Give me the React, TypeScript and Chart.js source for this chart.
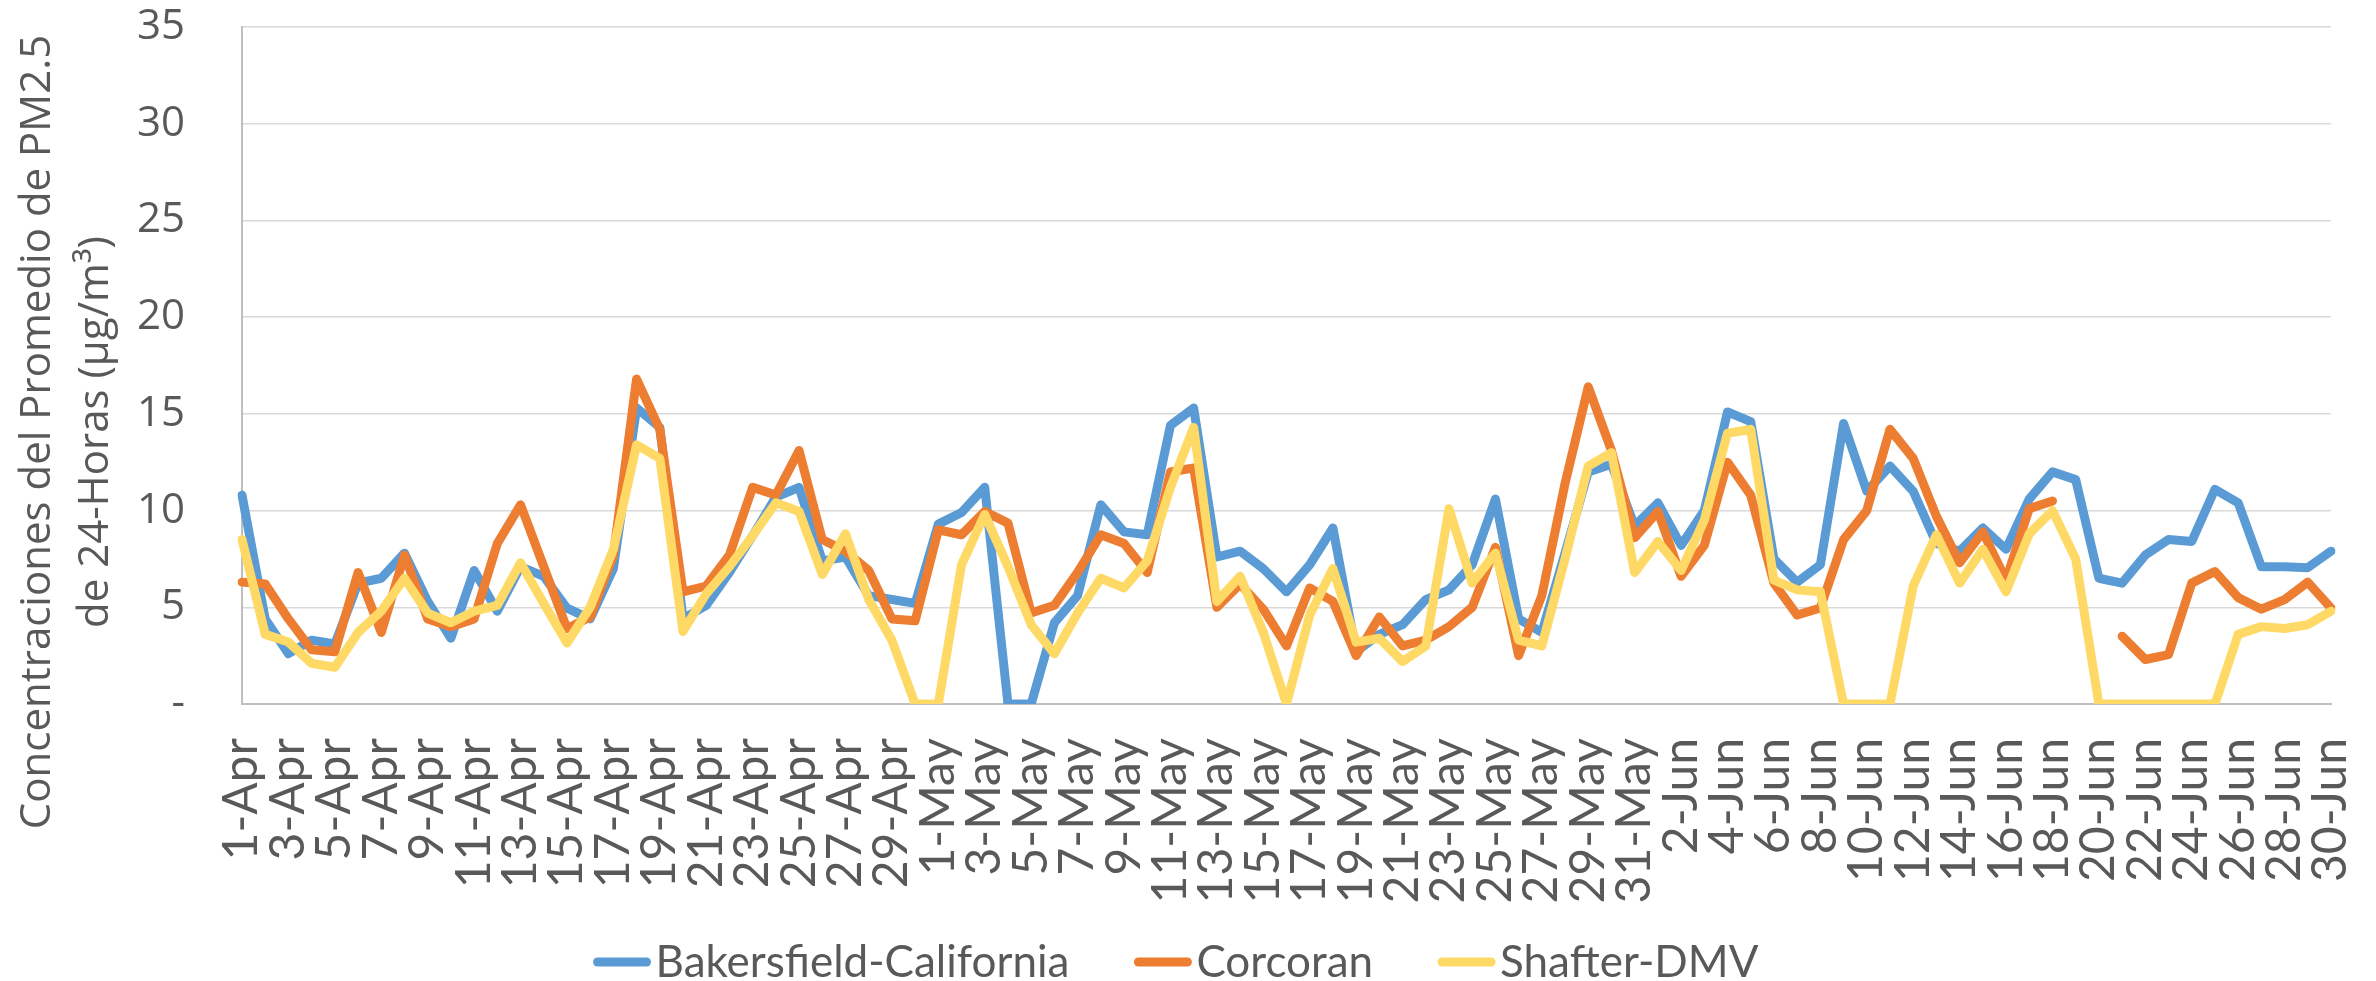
import React, { useEffect, useRef } from "react";
import { Chart, registerables } from "chart.js";

Chart.register(...registerables);

const monthNames = ["Apr", "May", "Jun"];
const monthDays = [30, 31, 30];
const categories: string[] = [];
monthNames.forEach((m, k) => {
  for (let d = 1; d <= monthDays[k]; d++) categories.push(`${d}-${m}`);
});

const bakersfield: (number | null)[] = [
  10.8, 4.4, 2.6, 3.3, 3.1, 6.25, 6.5, 7.8, 5.3, 3.4,
  6.9, 4.8, 7.1, 6.6, 4.96, 4.4, 7.0, 15.3, 14.3, 4.4,
  5.1, 6.8, 8.7, 10.7, 11.2, 7.4, 7.6, 5.6, 5.4, 5.2,
  9.3, 9.9, 11.2, 0, 0, 4.2, 5.6, 10.3, 8.9, 8.75,
  14.4, 15.3, 7.6, 7.9, 7.0, 5.8, 7.2, 9.1, 2.7, 3.6,
  4.1, 5.4, 5.9, 7.2, 10.6, 4.4, 3.7, 7.8, 12.0, 12.4,
  9.2, 10.4, 8.2, 10.0, 15.1, 14.6, 7.5, 6.3, 7.2, 14.5,
  11.0, 12.3, 11.0, 8.3, 7.9, 9.1, 8.0, 10.6, 12.0, 11.6,
  6.5, 6.25, 7.7, 8.5, 8.4, 11.1, 10.4, 7.1, 7.1, 7.05,
  7.9,
];

const corcoran: (number | null)[] = [
  6.3, 6.2, 4.4, 2.8, 2.7, 6.8, 3.7, 7.7, 4.4, 4.0,
  4.4, 8.3, 10.3, 7.1, 3.9, 4.5, 7.7, 16.8, 14.2, 5.8,
  6.1, 7.7, 11.2, 10.8, 13.1, 8.5, 7.9, 6.9, 4.4, 4.3,
  9.0, 8.75, 9.95, 9.35, 4.7, 5.1, 6.8, 8.75, 8.3, 6.8,
  12.0, 12.2, 5.0, 6.2, 4.9, 3.0, 6.0, 5.3, 2.5, 4.5,
  3.0, 3.3, 4.0, 5.0, 8.1, 2.5, 5.6, 11.4, 16.4, 13.1,
  8.6, 9.95, 6.6, 8.2, 12.5, 10.8, 6.25, 4.6, 4.96, 8.5,
  10.0, 14.2, 12.7, 9.7, 7.3, 8.9, 6.4, 10.1, 10.5, null,
  null, 3.5, 2.3, 2.55, 6.25, 6.85, 5.5, 4.9, 5.4, 6.3,
  4.96,
];

const shafter: (number | null)[] = [
  8.5, 3.6, 3.2, 2.1, 1.9, 3.7, 4.8, 6.5, 4.7, 4.2,
  4.8, 5.1, 7.3, 5.2, 3.15, 5.0, 8.0, 13.4, 12.7, 3.75,
  5.7, 7.1, 8.7, 10.4, 9.95, 6.7, 8.8, 5.4, 3.3, 0,
  0, 7.2, 9.8, 7.1, 4.1, 2.6, 4.7, 6.5, 6.0, 7.4,
  11.2, 14.3, 5.3, 6.6, 3.7, 0, 4.6, 7.0, 3.2, 3.4,
  2.2, 3.0, 10.1, 6.25, 7.8, 3.3, 3.0, 7.5, 12.3, 13.0,
  6.8, 8.4, 6.9, 9.5, 14.0, 14.2, 6.4, 5.9, 5.8, 0,
  0, 0, 6.1, 8.75, 6.25, 8.0, 5.8, 8.8, 10.0, 7.5,
  0, 0, 0, 0, 0, 0, 3.6, 4.0, 3.9, 4.1,
  4.8,
];

const seriesNames = ["Bakersfield-California", "Corcoran", "Shafter-DMV"];
const seriesColors = ["#5B9BD5", "#ED7D31", "#FFD966"];
const yTitleLines = ["Concentraciones del Promedio de PM2.5", "de 24-Horas (µg/m³)"];

const TEXT = "#595959";

export default function App() {
  const ref = useRef<HTMLCanvasElement>(null);

  useEffect(() => {
    if (!ref.current) return;

    const textPlugin = {
      id: "customText",
      afterDraw(chart: any) {
        const ctx = chart.ctx as CanvasRenderingContext2D;
        // Y-axis title (two lines)
        ctx.save();
        ctx.fillStyle = TEXT;
        ctx.font = '42px "Open Sans"';
        ctx.textAlign = "center";
        ctx.textBaseline = "alphabetic";
        const baseX = [50, 108];
        yTitleLines.forEach((line, i) => {
          ctx.save();
          ctx.translate(baseX[i], 432);
          ctx.rotate(-Math.PI / 2);
          ctx.fillText(line, 0, 0);
          ctx.restore();
        });
        ctx.restore();

        // Legend
        ctx.save();
        ctx.font = '44px "Lato"';
        ctx.textBaseline = "alphabetic";
        ctx.textAlign = "left";
        const lineW = 57;
        const gap = 5;
        const itemGap = 65;
        const widths = seriesNames.map((n) => ctx.measureText(n).width);
        const total =
          widths.reduce((a, w) => a + lineW + gap + w, 0) + itemGap * (seriesNames.length - 1);
        let x = 1176 - total / 2;
        const lineY = 962;
        chart.data.datasets.forEach((ds: any, i: number) => {
          ctx.strokeStyle = ds.borderColor;
          ctx.lineWidth = 9;
          ctx.lineCap = "round";
          ctx.beginPath();
          ctx.moveTo(x + 4, lineY);
          ctx.lineTo(x + lineW - 4, lineY);
          ctx.stroke();
          ctx.fillStyle = TEXT;
          ctx.fillText(ds.label, x + lineW + gap, 977);
          x += lineW + gap + widths[i] + itemGap;
        });
        ctx.restore();
      },
    };

    const chart = new Chart(ref.current, {
      type: "line",
      data: {
        labels: categories,
        datasets: [bakersfield, corcoran, shafter].map((d, i) => ({
          label: seriesNames[i],
          data: d,
          borderColor: seriesColors[i],
          backgroundColor: seriesColors[i],
          borderWidth: 9,
          pointRadius: 0,
          pointHoverRadius: 0,
          tension: 0,
          spanGaps: false,
          borderJoinStyle: "round" as const,
          borderCapStyle: "round" as const,
          fill: false,
          order: 2 - i,
        })),
      },
      options: {
        animation: false,
        responsive: true,
        maintainAspectRatio: false,
        layout: { padding: { top: 27, right: 45, bottom: 0, left: 0 } },
        plugins: {
          legend: { display: false },
          tooltip: { enabled: false },
          title: { display: false },
        },
        scales: {
          x: {
            type: "category",
            offset: false,
            grid: { display: false, drawTicks: false },
            border: { display: true, color: "#BFBFBF", width: 2 },
            ticks: {
              autoSkip: false,
              maxRotation: 90,
              minRotation: 90,
              padding: 34,
              color: TEXT,
              font: { family: "Lato", size: 48 },
              callback: (_v: any, idx: number) => (idx % 2 === 0 ? categories[idx] : ""),
            },
            afterFit: (scale: any) => {
              scale.height = 277;
              scale.paddingLeft = 0;
              scale.paddingRight = 0;
              scale.paddingTop = 0;
              scale.paddingBottom = 0;
            },
          },
          y: {
            min: 0,
            max: 35,
            grid: { color: "#D9D9D9", lineWidth: 1.5, drawTicks: false },
            border: { display: true, color: "#BFBFBF", width: 2 },
            ticks: {
              stepSize: 5,
              padding: 57,
              color: TEXT,
              font: { family: "Open Sans", size: 42 },
              callback: (v: any) => (Number(v) === 0 ? "-" : String(v)),
            },
            afterFit: (scale: any) => {
              scale.width = 242;
              scale.paddingLeft = 0;
              scale.paddingRight = 0;
              scale.paddingTop = 0;
              scale.paddingBottom = 0;
            },
          },
        },
      },
      plugins: [textPlugin],
    });

    return () => chart.destroy();
  }, []);

  return (
    <div
      style={{
        position: "fixed",
        left: 0,
        top: 0,
        width: 2376,
        height: 981,
        background: "#ffffff",
      }}
    >
      <canvas ref={ref} />
    </div>
  );
}
